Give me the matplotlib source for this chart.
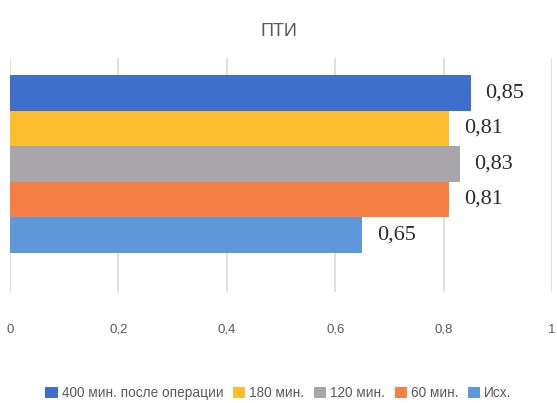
import matplotlib.pyplot as plt
from matplotlib.patches import Patch

# data, top bar first
series = ["400 мин. после операции", "180 мин.", "120 мин.", "60 мин.", "Исх."]
values = [0.85, 0.81, 0.83, 0.81, 0.65]
value_labels = ["0,85", "0,81", "0,83", "0,81", "0,65"]
colors = ["#3f6fcc", "#fdbd2c", "#a8a6aa", "#f57f45", "#5e97da"]
xticks = [0, 0.2, 0.4, 0.6, 0.8, 1.0]
xtick_labels = ["0", "0,2", "0,4", "0,6", "0,8", "1"]

plt.rcParams["font.family"] = ["Liberation Sans", "DejaVu Sans"]
text_gray = "#595959"

fig = plt.figure(figsize=(5.57, 4.03), dpi=100)
W, H = 557, 403
ax = fig.add_axes([10 / W, 1 - 292 / H, 542 / W, 234 / H])

pos = list(range(len(values)))
ax.barh(pos, values, height=1.0, color=colors, zorder=2)
for p, v, lab in zip(pos, values, value_labels):
    ax.text(v + 0.027, p, lab, va="center", ha="left", fontsize=16,
            family="Liberation Serif", color="#2a2a2a")

ax.set_xlim(0, 1)
ax.set_ylim(5.6, -0.98)
ax.set_xticks(xticks)
ax.set_xticklabels(xtick_labels, fontsize=9.5, color=text_gray)
ax.set_yticks([])
ax.tick_params(axis="x", length=0, pad=23)
ax.grid(axis="x", color="#d9d9d9", linewidth=1.2, zorder=0)
for s in ax.spines.values():
    s.set_visible(False)

fig.text(0.5, 1 - 31 / H, "ПТИ", ha="center", va="center", fontsize=13,
         color=text_gray)

handles = [Patch(facecolor=c) for c in colors]
fig.legend(handles, series, loc="center", bbox_to_anchor=(0.5, 1 - 393 / H),
           ncol=5, frameon=False, fontsize=9.8, handlelength=0.9,
           handleheight=0.9, handletextpad=0.3, columnspacing=0.7,
           labelcolor=text_gray)

fig.savefig("out.png", dpi=100)
